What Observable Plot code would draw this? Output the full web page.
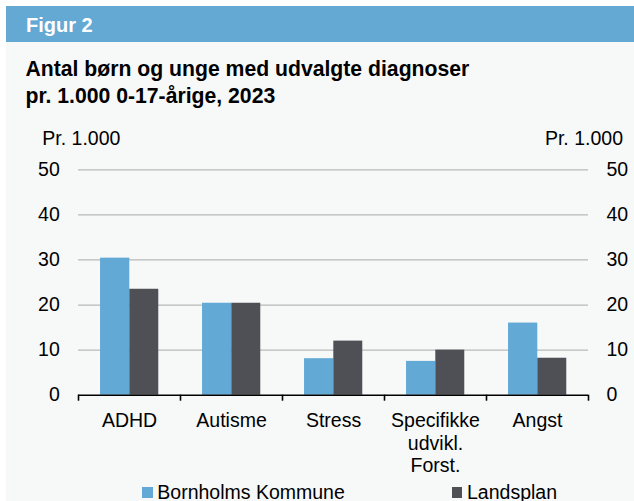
<!DOCTYPE html>
<html>
<head>
<meta charset="utf-8">
<script src="https://cdn.jsdelivr.net/npm/d3@7"></script>
<script src="https://cdn.jsdelivr.net/npm/@observablehq/plot@0.6"></script>
<style>
  body { margin: 0; background: #fff; font-family: "Liberation Sans", Arial, sans-serif; }
  #wrap { position: relative; width: 634px; height: 501px; overflow: hidden; background: #fff; }
  #header { position: absolute; left: 6px; top: 6px; right: 0; height: 36px; background: #63a9d4; }
  #panel { position: absolute; left: 6px; top: 42px; right: 0; bottom: 0; background: #f7f8f8; }
  .abs { position: absolute; white-space: nowrap; color: #000; }
  #fig { left: 26px; top: 15px; font-size: 20px; line-height: 20px; font-weight: bold; color: #fff; }
  #title { left: 25.5px; top: 55px; font-size: 21.2px; line-height: 27px; font-weight: bold; }
  .unit { top: 128.5px; font-size: 19.5px; line-height: 19.5px; }
  .sw { position: absolute; width: 10.5px; height: 10.5px; top: 487px; }
  .lg { top: 483.2px; font-size: 19.5px; line-height: 19.5px; }
  #chart { position: absolute; left: 0; top: 0; }
</style>
</head>
<body>
<div id="wrap">
  <div id="header"></div>
  <div id="panel"></div>
  <div class="abs" id="fig"></div>
  <div class="abs" id="title"></div>
  <div class="abs unit" id="unitL" style="left:42.3px"></div>
  <div class="abs unit" id="unitR" style="right:11px"></div>
  <div id="chart"></div>
  <div class="sw" id="sw0" style="left:142.3px"></div>
  <div class="abs lg" id="lg0" style="left:157.3px"></div>
  <div class="sw" id="sw1" style="left:451.7px"></div>
  <div class="abs lg" id="lg1" style="left:467px"></div>
</div>
<script>
// ---- data ----
const figureLabel = "Figur 2";
const titleLines = ["Antal børn og unge med udvalgte diagnoser", "pr. 1.000 0-17-årige, 2023"];
const unitLabel = "Pr. 1.000";
const categories = ["ADHD", "Autisme", "Stress", "Specifikke udvikl. Forst.", "Angst"];
const categoryLabels = ["ADHD", "Autisme", "Stress", "Specifikke\nudvikl.\nForst.", "Angst"];
const series = ["Bornholms Kommune", "Landsplan"];
const bornholm = [30.4, 20.4, 8.1, 7.5, 16.0];
const landsplan = [23.5, 20.4, 12.0, 10.0, 8.2];
const yTicks = [0, 10, 20, 30, 40, 50];
const colors = ["#63a9d5", "#4f5056"];

// ---- text ----
document.getElementById("fig").textContent = figureLabel;
document.getElementById("title").innerHTML = titleLines.join("<br>");
document.getElementById("unitL").textContent = unitLabel;
document.getElementById("unitR").textContent = unitLabel;
series.forEach((s, i) => {
  document.getElementById("lg" + i).textContent = s;
  document.getElementById("sw" + i).style.background = colors[i];
});

const rows = [];
categories.forEach((c, i) => {
  rows.push({cat: c, series: series[0], value: bornholm[i]});
  rows.push({cat: c, series: series[1], value: landsplan[i]});
});
const labelOf = new Map(categories.map((c, i) => [c, categoryLabels[i]]));

const W = 634, H = 501, mL = 78, mR = 46, mT = 169.3, mB = 106.3;
const band = (W - mL - mR) / categories.length;
const font = "Liberation Sans, Arial, sans-serif";

const chart = Plot.plot({
  width: W,
  height: H,
  marginLeft: mL,
  marginRight: mR,
  marginTop: mT,
  marginBottom: mB,
  style: {background: "transparent", fontFamily: font, fontSize: "19.5px", color: "#000", overflow: "visible"},
  x: {type: "band", domain: categories, padding: 0, label: null},
  y: {domain: [0, 50], label: null},
  marks: [
    Plot.ruleY(yTicks.filter(d => d > 0), {stroke: "#b9b9b9", strokeWidth: 1.2}),
    Plot.barY(rows.filter(d => d.series === series[0]), {x: "cat", y: "value", fill: colors[0], insetLeft: band * 0.216, insetRight: band * 0.497}),
    Plot.barY(rows.filter(d => d.series === series[1]), {x: "cat", y: "value", fill: colors[1], insetLeft: band * 0.503, insetRight: band * 0.213}),
    Plot.ruleY([0], {stroke: "#000", strokeWidth: 1.6}),
    Plot.axisX(categories, {tickSize: 6, tickFormat: () => "", label: null, dx: -band / 2, stroke: "#000", strokeWidth: 1.6}),
    Plot.axisX([categories[categories.length - 1]], {tickSize: 6, tickFormat: () => "", label: null, dx: band / 2, stroke: "#000", strokeWidth: 1.6}),
    Plot.axisX({tickSize: 0, tickPadding: 15.8, tickFormat: d => labelOf.get(d), label: null, lineHeight: 1.16, fill: "#000", fontSize: 19.5}),
    Plot.axisY(yTicks, {anchor: "left", tickSize: 0, tickPadding: 18.7, label: null, fill: "#000", fontSize: 19.5}),
    Plot.axisY(yTicks, {anchor: "right", tickSize: 0, tickPadding: 18, label: null, fill: "#000", fontSize: 19.5})
  ]
});
document.getElementById("chart").appendChild(chart);
</script>
</body>
</html>
